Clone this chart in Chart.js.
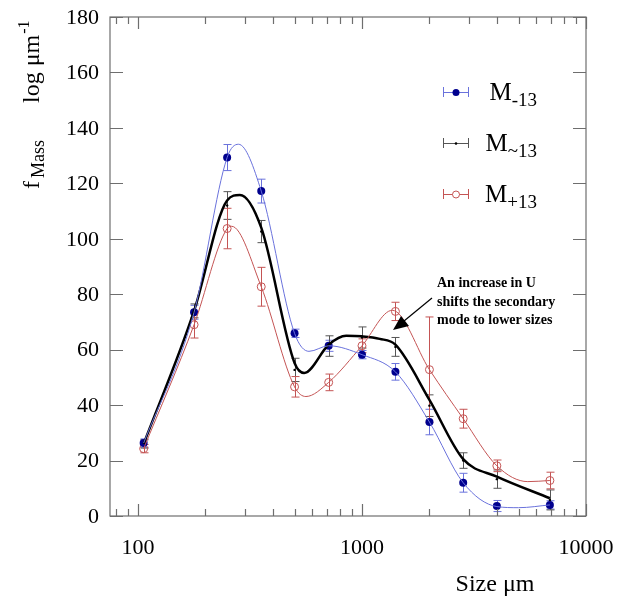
<!DOCTYPE html>
<html>
<head>
<meta charset="utf-8">
<script src="https://cdn.jsdelivr.net/npm/chart.js@4/dist/chart.umd.min.js"></script>
<style>
  body { margin: 0; background: #fff; }
  #wrap { position: relative; width: 630px; height: 605px; }
</style>
</head>
<body>
<div id="wrap"><canvas id="fmass" width="630" height="605"></canvas></div>
<script>
// size bins (um) of the measured points
var sizes = [106, 178, 250, 355, 500, 710, 1000, 1410, 2000, 2830, 4000, 6900];

// M-13 (blue, filled)
var blueVals = [26.3, 73.5, 129.3, 117.2, 65.9, 61.4, 58.2, 52.0, 33.9, 12.0, 3.6, 4.0];
var blueErr = [1.5, 2.5, 4.7, 4.3, 1.5, 2.0, 1.5, 3.0, 4.6, 3.4, 2.0, 1.5];
// M~13 (black)
var blackVals = [26, 74, 112, 102.6, 52.7, 61.3, 64.4, 61, 39.8, 20, 13.3, 5.8];
var blackErr = [1.5, 2.5, 5, 4, 4.2, 3.7, 3.8, 3.4, 3.9, 2.8, 3.3, 3.6];
// M+13 (red, open)
var redVals = [24.3, 69.0, 103.7, 82.7, 46.6, 48.2, 61.4, 73.8, 52.8, 35.1, 18.1, 12.8];
var redErr = [1.5, 4.8, 7.3, 7.0, 3.7, 3.0, 2.5, 3.3, 19, 3.4, 2.1, 3.0];

// smooth fitted curves
var blueFitX = [106, 178, 250, 281, 355, 500, 580, 710, 1000, 1410, 2000, 2830, 4000, 5000, 6900];
var blueFitY = [26.3, 73.5, 129.3, 134.1, 117.2, 65.9, 59.4, 61.4, 58.2, 52.0, 33.9, 12.0, 3.4, 3.0, 4.0];
var blackFitX = [106, 178, 250, 285, 355, 500, 552, 710, 850, 1000, 1200, 1410, 2000, 2830, 4000, 6900];
var blackFitY = [26, 74, 113.8, 115.8, 104, 55.2, 51.6, 61.8, 65, 64.8, 63.9, 61.8, 41.9, 20.5, 14.2, 6.4];
var redFitX = [106, 178, 250, 262, 355, 500, 562, 710, 1000, 1365, 2000, 2830, 4000, 5500, 6900];
var redFitY = [24.3, 69.0, 103.7, 104.5, 82.7, 46.6, 43.1, 48.2, 61.4, 74.2, 52.8, 35.1, 18.1, 12.4, 12.8];

// axis ticks
var xMajor = [100, 1000, 10000];
var xMinor = [80, 90, 200, 300, 400, 500, 600, 700, 800, 900, 2000, 3000, 4000, 5000, 6000, 7000, 8000, 9000];
var yTicks = [0, 20, 40, 60, 80, 100, 120, 140, 160, 180];

var legendLabels = [["M", "-13"], ["M", "~13"], ["M", "+13"]];
var noteLines = ["An increase in U", "shifts the secondary", "mode to lower sizes"];

var SERIF = "'Liberation Serif', 'DejaVu Serif', serif";
var BLUE_LINE = "#6a72dc", BLUE_DOT = "#00008e";
var RED_LINE = "#c45454";
var GREY = "#6e6e6e";

function pts(xs, ys) {
  return xs.map(function (x, i) { return { x: x, y: ys[i] }; });
}

function fitSet(xs, ys, color, width) {
  return {
    data: pts(xs, ys), showLine: true, borderColor: color, borderWidth: width,
    pointRadius: 0, cubicInterpolationMode: "monotone", fill: false
  };
}

function pointSet(ys, err, errColor, opts) {
  var d = {
    data: pts(sizes, ys), showLine: false, errors: err, errColor: errColor
  };
  for (var k in opts) d[k] = opts[k];
  return d;
}

var errorBars = {
  id: "errorBars",
  beforeDatasetsDraw: function (chart) {
    var ctx = chart.ctx, xs = chart.scales.x, ys = chart.scales.y;
    chart.data.datasets.forEach(function (ds) {
      if (!ds.errors) return;
      ctx.save();
      ctx.strokeStyle = ds.errColor;
      ctx.lineWidth = 1;
      ds.data.forEach(function (p, i) {
        var px = Math.round(xs.getPixelForValue(p.x)) + 0.5;
        var top = ys.getPixelForValue(p.y + ds.errors[i]);
        var bot = ys.getPixelForValue(p.y - ds.errors[i]);
        ctx.beginPath();
        ctx.moveTo(px, top); ctx.lineTo(px, bot);
        ctx.moveTo(px - 4, top); ctx.lineTo(px + 4, top);
        ctx.moveTo(px - 4, bot); ctx.lineTo(px + 4, bot);
        ctx.stroke();
      });
      ctx.restore();
    });
  }
};

var frameAndText = {
  id: "frameAndText",
  afterDraw: function (chart) {
    var ctx = chart.ctx, a = chart.chartArea;
    var xs = chart.scales.x, ys = chart.scales.y;
    ctx.save();
    ctx.strokeStyle = GREY;
    ctx.lineWidth = 1.2;
    ctx.strokeRect(a.left, a.top, a.right - a.left, a.bottom - a.top);

    // inward ticks on all four sides
    ctx.beginPath();
    function xt(v, len) {
      var px = Math.round(xs.getPixelForValue(v)) + 0.5;
      ctx.moveTo(px, a.bottom); ctx.lineTo(px, a.bottom - len);
      ctx.moveTo(px, a.top); ctx.lineTo(px, a.top + len);
    }
    xMajor.forEach(function (v) { xt(v, 12); });
    xMinor.forEach(function (v) { xt(v, 7); });
    yTicks.forEach(function (v) {
      var py = Math.round(ys.getPixelForValue(v)) + 0.5;
      ctx.moveTo(a.left, py); ctx.lineTo(a.left + 13, py);
      ctx.moveTo(a.right, py); ctx.lineTo(a.right - 13, py);
    });
    ctx.stroke();

    // tick labels
    ctx.fillStyle = "#000";
    ctx.font = "22px " + SERIF;
    ctx.textAlign = "right";
    ctx.textBaseline = "middle";
    yTicks.forEach(function (v) {
      ctx.fillText(String(v), 99, ys.getPixelForValue(v) + 1);
    });
    ctx.textAlign = "center";
    ctx.textBaseline = "alphabetic";
    xMajor.forEach(function (v) {
      ctx.fillText(String(v), xs.getPixelForValue(v), 554);
    });

    // x title
    ctx.font = "24px " + SERIF;
    ctx.fillText("Size \u03bcm", 495, 591);

    // y title, rotated
    ctx.save();
    ctx.translate(39, 189);
    ctx.rotate(-Math.PI / 2);
    ctx.textAlign = "left";
    ctx.font = "24px " + SERIF;
    ctx.fillText("f", 0, 0);
    var w = ctx.measureText("f").width;
    ctx.font = "18px " + SERIF;
    ctx.fillText("Mass", w + 3, 5);
    ctx.font = "24px " + SERIF;
    ctx.fillText("log \u03bcm", 86, 0);
    var w2 = ctx.measureText("log \u03bcm").width;
    ctx.font = "16px " + SERIF;
    ctx.fillText("-1", 86 + w2 + 1, -10);
    ctx.restore();

    // legend
    var legY = [92, 143, 194];
    var legCol = [BLUE_LINE, "#555", RED_LINE];
    legY.forEach(function (y, i) {
      ctx.strokeStyle = legCol[i];
      ctx.lineWidth = 1;
      ctx.beginPath();
      ctx.moveTo(443.5, y - 5); ctx.lineTo(443.5, y + 5);
      ctx.moveTo(468.5, y - 5); ctx.lineTo(468.5, y + 5);
      ctx.moveTo(443.5, y + 0.5); ctx.lineTo(468.5, y + 0.5);
      ctx.stroke();
      ctx.beginPath();
      if (i === 0) {
        ctx.fillStyle = BLUE_DOT;
        ctx.arc(456, y + 0.5, 3.5, 0, Math.PI * 2);
        ctx.fill();
      } else if (i === 1) {
        ctx.fillStyle = "#000";
        ctx.arc(456, y + 0.5, 1.3, 0, Math.PI * 2);
        ctx.fill();
      } else {
        ctx.fillStyle = "#fff";
        ctx.arc(456, y + 0.5, 3.5, 0, Math.PI * 2);
        ctx.fill();
        ctx.stroke();
      }
      ctx.fillStyle = "#000";
      ctx.textAlign = "left";
      ctx.font = "19px " + SERIF;
      var sw = ctx.measureText(legendLabels[i][1]).width;
      ctx.font = "25px " + SERIF;
      var mw = ctx.measureText(legendLabels[i][0]).width;
      var x0 = 537 - sw - mw;
      ctx.fillText(legendLabels[i][0], x0, y + 8);
      ctx.font = "19px " + SERIF;
      ctx.fillText(legendLabels[i][1], x0 + mw, y + 14);
    });

    // annotation
    ctx.font = "bold 14px " + SERIF;
    ctx.fillStyle = "#000";
    ctx.textAlign = "left";
    noteLines.forEach(function (s, i) {
      ctx.fillText(s, 437, 287 + i * 18.5);
    });
    ctx.strokeStyle = "#000";
    ctx.lineWidth = 1.2;
    ctx.beginPath();
    ctx.moveTo(432, 298); ctx.lineTo(404, 321);
    ctx.stroke();
    ctx.beginPath();
    ctx.moveTo(393, 330); ctx.lineTo(401, 316); ctx.lineTo(409, 326);
    ctx.closePath();
    ctx.fill();
    ctx.restore();
  }
};

new Chart(document.getElementById("fmass"), {
  type: "scatter",
  data: {
    datasets: [
      fitSet(blueFitX, blueFitY, BLUE_LINE, 1),
      fitSet(redFitX, redFitY, RED_LINE, 1),
      fitSet(blackFitX, blackFitY, "#000", 2.5),
      pointSet(blueVals, blueErr, BLUE_LINE, {
        pointRadius: 4, backgroundColor: BLUE_DOT, borderColor: BLUE_DOT, borderWidth: 0
      }),
      pointSet(blackVals, blackErr, "#555", {
        pointRadius: 1.2, backgroundColor: "#000", borderColor: "#000", borderWidth: 0
      }),
      pointSet(redVals, redErr, RED_LINE, {
        pointRadius: 4, backgroundColor: "rgba(255,255,255,0)", borderColor: RED_LINE, borderWidth: 1
      })
    ]
  },
  options: {
    responsive: false,
    animation: false,
    layout: { padding: { left: 110, top: 17, right: 44, bottom: 89 } },
    plugins: { legend: { display: false }, tooltip: { enabled: false } },
    scales: {
      x: { type: "logarithmic", min: 75, max: 10000, display: false },
      y: { type: "linear", min: 0, max: 180, display: false }
    }
  },
  plugins: [errorBars, frameAndText]
});
</script>
</body>
</html>
